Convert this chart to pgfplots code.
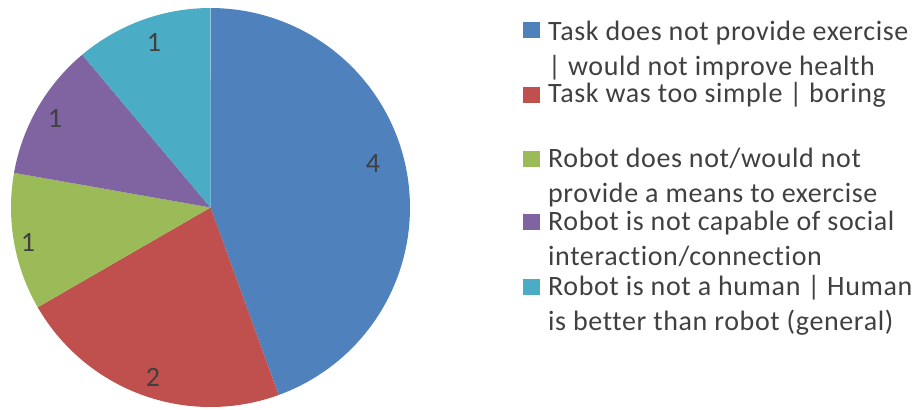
\documentclass[border=0pt]{standalone}
\usepackage{fontspec}
\setmainfont{Carlito}[LetterSpace=2.2, Ligatures=NoCommon]
\usepackage{pgfplots}
\usepackage{pgfplotstable}
\pgfplotsset{compat=1.18}
\definecolor{c1}{HTML}{4F81BD}
\definecolor{c2}{HTML}{C0504D}
\definecolor{c3}{HTML}{9BBB59}
\definecolor{c4}{HTML}{8064A2}
\definecolor{c5}{HTML}{4BACC6}
\definecolor{txt}{HTML}{404040}
\tikzset{lab/.style={font=\fontsize{28bp}{35bp}\selectfont, text=txt, inner sep=0pt}}
\pgfplotstableread{
id value
1 4
2 2
3 1
4 1
5 1
}\piedata
\pgfplotstablegetelem{0}{value}\of\piedata \let\vA\pgfplotsretval
\pgfplotstablegetelem{1}{value}\of\piedata \let\vB\pgfplotsretval
\pgfplotstablegetelem{2}{value}\of\piedata \let\vC\pgfplotsretval
\pgfplotstablegetelem{3}{value}\of\piedata \let\vD\pgfplotsretval
\pgfplotstablegetelem{4}{value}\of\piedata \let\vE\pgfplotsretval
\pgfmathsetmacro\tot{\vA+\vB+\vC+\vD+\vE}
\pgfmathsetmacro\aA{90-360*\vA/\tot}
\pgfmathsetmacro\aB{\aA-360*\vB/\tot}
\pgfmathsetmacro\aC{\aB-360*\vC/\tot}
\pgfmathsetmacro\aD{\aC-360*\vD/\tot}
\pgfmathsetmacro\aE{\aD-360*\vE/\tot}
\newcommand\pieslice[3]{%
  \addplot[fill=#1, draw=none, domain=#2:#3, samples=90]
    ({210.5+199.5*cos(x)},{207.5-199.5*sin(x)}) -- (axis cs:210.5,207.5) -- cycle;}
\begin{document}
\begin{tikzpicture}
\begin{axis}[
  x=1bp, y=1bp, y dir=reverse,
  xmin=0, xmax=915, ymin=0, ymax=409,
  hide axis, clip=false, scale only axis,
]
\path[draw=none] (axis cs:0,0) rectangle (axis cs:915,409);
\pieslice{c1}{90}{\aA}
\pieslice{c2}{\aA}{\aB}
\pieslice{c3}{\aB}{\aC}
\pieslice{c4}{\aC}{\aD}
\pieslice{c5}{\aD}{\aE}
% data labels
\node[lab] at (axis cs:373,164) {\vA};
\node[lab] at (axis cs:153,377) {\vB};
\node[lab] at (axis cs:28,242) {\vC};
\node[lab] at (axis cs:55,118) {\vD};
\node[lab] at (axis cs:154,42) {\vE};
% legend
\fill[c1] (axis cs:523,22) rectangle (axis cs:540,38);
\fill[c2] (axis cs:523,87) rectangle (axis cs:540,103);
\fill[c3] (axis cs:523,151) rectangle (axis cs:540,167);
\fill[c4] (axis cs:523,214) rectangle (axis cs:540,230);
\fill[c5] (axis cs:523,279) rectangle (axis cs:540,295);
\node[lab,anchor=base west] at (axis cs:548,40.5) {Task does not provide exercise};
\node[lab,anchor=base west] at (axis cs:548,75) {| would not improve health};
\node[lab,anchor=base west] at (axis cs:548,102) {Task was too simple | boring};
\node[lab,anchor=base west] at (axis cs:548,167) {Robot does not/would not};
\node[lab,anchor=base west] at (axis cs:548,202) {provide a means to exercise};
\node[lab,anchor=base west] at (axis cs:548,230.5) {Robot is not capable of social};
\node[lab,anchor=base west] at (axis cs:548,265.5) {interaction/connection};
\node[lab,anchor=base west] at (axis cs:548,295.5) {Robot is not a human | Human};
\node[lab,anchor=base west] at (axis cs:548,330.5) {is better than robot (general)};
\end{axis}
\end{tikzpicture}
\end{document}
